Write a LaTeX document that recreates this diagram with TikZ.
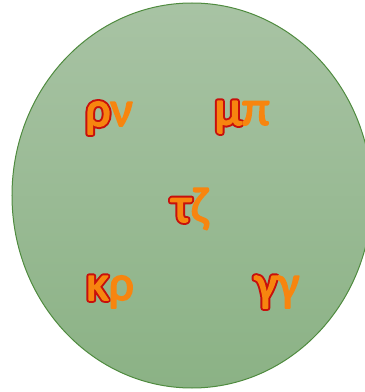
\documentclass[tikz,border=0pt]{standalone}
\usepackage{fontspec}
\setmainfont{Carlito}
\usepackage{xcolor}

\definecolor{artorange}{HTML}{F7850F}
\definecolor{artred}{HTML}{C8100C}
\definecolor{blobtop}{HTML}{A8C3A4}
\definecolor{blobbottom}{HTML}{8BB285}
\definecolor{blobedge}{HTML}{4F8B3F}

% stroke the glyphs (text render mode 2) for the red rim
\newcommand{\rimon}[1]{\special{pdf:literal direct 2 Tr #1 w 1 j}}
\newcommand{\rimoff}{\special{pdf:literal direct 0 Tr 1 w}}
% first letter with a red rim, second one plain
\newcommand{\artpair}[2]{\rlap{\color{artred}\rimon{5.5}#1\rimoff}%
  \textcolor{artorange}{\rimon{1.6}#1#2\rimoff}}

\begin{document}
\begin{tikzpicture}[x=1pt,y=1pt]
        \useasboundingbox (0,0) rectangle (365,392);
        \clip (0,0) rectangle (365,392);

        % the big green blob, runs a bit past the right edge
        \coordinate (M) at (192,196.5);
        \shade[top color=blobtop, bottom color=blobbottom, draw=blobedge, line width=1pt]
            (M) ellipse [x radius=180pt, y radius=192.5pt];

        % letter pairs, placed on their baselines
        \tikzset{art/.style={anchor=base, inner sep=0pt, font=\fontsize{50}{50}\selectfont}}
        \node[art] (rhonu) at (109,266) {\artpair{ρ}{ν}};
        \node[art] (mupi) at (242,267) {\artpair{μ}{π}};
        \node[art] (tauzeta) at (190,170) {\artpair{τ}{ζ}};
        \node[art] (kapparho) at (110,92) {\artpair{κ}{ρ}};
        \node[art] (gammagamma) at (277,92) {\artpair{γ}{γ}};

    \end{tikzpicture}
\end{document}
